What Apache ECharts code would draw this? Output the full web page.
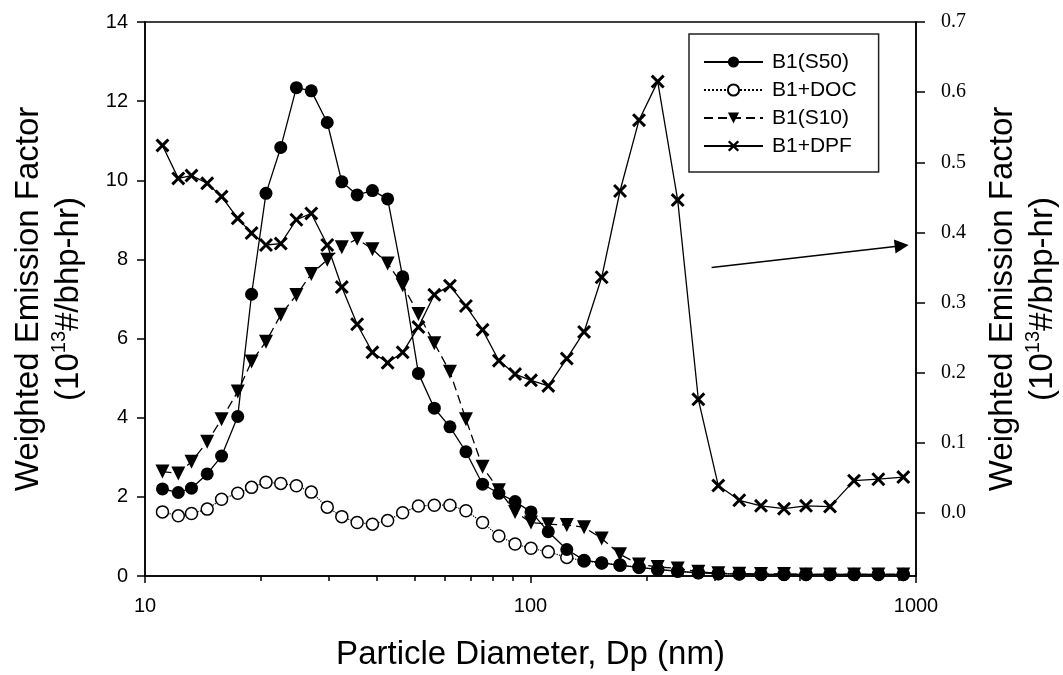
<!DOCTYPE html>
<html>
<head>
<meta charset="utf-8">
<script src="https://cdn.jsdelivr.net/npm/echarts@6/dist/echarts.min.js"></script>
<style>
  html, body { margin: 0; padding: 0; background: #fff; }
  #main { width: 1063px; height: 675px; }
</style>
</head>
<body>
<div id="main"></div>
<script>
var myChart = echarts.init(document.getElementById("main"));

// particle diameter bins (nm)
const dp = [11.1, 12.2, 13.2, 14.5, 15.8, 17.4, 18.9, 20.6, 22.5, 24.7, 27.0, 29.7, 32.4, 35.5, 38.9,
  42.6, 46.6, 51.2, 56.3, 61.8, 68.0, 75.1, 82.8, 91.2, 100.3, 111.2, 124.2, 137.7, 153.0, 170.7,
  191.2, 213.8, 240.9, 272.5, 307.0, 348.0, 396.2, 454.6, 518.4, 598.4, 690.7, 798.5, 926.8];

// left axis
const s50 = [2.20, 2.11, 2.22, 2.58, 3.03, 4.03, 7.12, 9.67, 10.83, 12.34, 12.26, 11.46, 9.96, 9.63, 9.74,
  9.53, 7.56, 5.12, 4.24, 3.77, 3.14, 2.32, 2.09, 1.88, 1.62, 1.12, 0.67, 0.40, 0.33, 0.27,
  0.22, 0.17, 0.12, 0.08, 0.06, 0.05, 0.04, 0.04, 0.04, 0.04, 0.04, 0.04, 0.04];
const doc = [1.62, 1.52, 1.58, 1.69, 1.94, 2.09, 2.24, 2.37, 2.34, 2.28, 2.12, 1.74, 1.50, 1.35, 1.31,
  1.40, 1.60, 1.77, 1.79, 1.79, 1.65, 1.35, 1.01, 0.81, 0.70, 0.61, 0.47, 0.38, 0.33, 0.28,
  0.22, 0.16, 0.12, 0.08, 0.06, 0.05, 0.04, 0.04, 0.04, 0.04, 0.04, 0.04, 0.04];
const s10 = [2.64, 2.59, 2.89, 3.39, 3.96, 4.66, 5.42, 5.92, 6.60, 7.10, 7.63, 7.99, 8.31, 8.52, 8.26,
  7.90, 7.35, 6.62, 5.88, 5.16, 3.96, 2.76, 2.17, 1.62, 1.35, 1.31, 1.29, 1.23, 0.95, 0.55,
  0.29, 0.23, 0.19, 0.11, 0.07, 0.06, 0.05, 0.05, 0.04, 0.04, 0.04, 0.04, 0.04];
// right axis
const dpf = [0.524, 0.477, 0.481, 0.470, 0.451, 0.420, 0.399, 0.382, 0.384, 0.418, 0.427, 0.382, 0.322, 0.269, 0.229,
  0.214, 0.229, 0.265, 0.311, 0.324, 0.295, 0.261, 0.217, 0.198, 0.189, 0.181, 0.220, 0.258, 0.336, 0.459,
  0.560, 0.615, 0.446, 0.162, 0.039, 0.018, 0.010, 0.006, 0.010, 0.009, 0.046, 0.048, 0.051];

const xMajor = [10, 100, 1000];
const xMinor = [20, 30, 40, 50, 60, 70, 80, 90, 200, 300, 400, 500, 600, 700, 800, 900];
const rightTicks = [0, 0.1, 0.2, 0.3, 0.4, 0.5, 0.6, 0.7];
// arrow pointing at the right axis: [dp, value] start and end
const arrowFrom = [295, 0.35];
const arrowTo = [918, 0.381];

function pairs(ys) {
  return ys.map(function (v, i) { return [dp[i], v]; });
}

const sans = "Liberation Sans";
const xShape = "path://M0,1.5L1.5,0L5,3.5L8.5,0L10,1.5L6.5,5L10,8.5L8.5,10L5,6.5L1.5,10L0,8.5L3.5,5Z";
const axisName = "Weighted Emission Factor\n(10{sup|13}#/bhp-hr)";
const nameStyle = {
  fontSize: 33, fontFamily: sans, color: "#000", lineHeight: 40,
  rich: { sup: { fontSize: 20, fontFamily: sans, color: "#000", verticalAlign: "top", lineHeight: 18 } },
};

option = {
  animation: false,
  backgroundColor: "#fff",
  grid: {
    left: 145, right: 147, top: 22, bottom: 99,
    outerBoundsMode: "none",
    show: true, borderColor: "#000", borderWidth: 1.5,
  },
  legend: {
    orient: "vertical",
    left: 689,
    top: 34,
    itemWidth: 59,
    itemHeight: 14,
    itemGap: 6,
    padding: [17, 22, 15, 14],
    borderColor: "#222",
    borderWidth: 1.5,
    textStyle: { fontSize: 21, lineHeight: 22, fontFamily: sans, color: "#000", padding: [0, 0, 0, 4] },
    data: ["B1(S50)", "B1+DOC", "B1(S10)", "B1+DPF"],
  },
  xAxis: [
    {
      type: "log",
      logBase: 10,
      min: 10,
      max: 1000,
      position: "bottom",
      name: "Particle Diameter, Dp (nm)",
      nameLocation: "middle",
      nameGap: 62,
      nameTextStyle: { fontSize: 33, fontFamily: sans, color: "#000" },
      axisLine: { onZero: false, lineStyle: { color: "#000", width: 1.5 } },
      axisTick: { show: true, length: 7, customValues: xMajor, lineStyle: { color: "#000", width: 1.5 } },
      axisLabel: {
        customValues: xMajor,
        margin: 20,
        fontSize: 20,
        fontFamily: sans,
        color: "#000",
        formatter: function (v) { return String(v); },
      },
      splitLine: { show: false },
    },
    {
      type: "log",
      logBase: 10,
      min: 10,
      max: 1000,
      position: "bottom",
      offset: 0,
      axisLine: { show: false, onZero: false },
      axisTick: { show: true, length: 5, customValues: xMinor, lineStyle: { color: "#000", width: 1.5 } },
      axisLabel: { show: false },
      splitLine: { show: false },
    },
  ],
  yAxis: [
    {
      type: "value",
      min: 0,
      max: 14,
      interval: 2,
      position: "left",
      name: axisName,
      nameLocation: "middle",
      nameRotate: 90,
      nameGap: 56,
      nameTextStyle: nameStyle,
      axisLine: { show: true, onZero: false, lineStyle: { color: "#000", width: 1.5 } },
      axisTick: { show: true, length: 8, lineStyle: { color: "#000", width: 1.5 } },
      axisLabel: { margin: 17, fontSize: 20, fontFamily: sans, color: "#000" },
      splitLine: { show: false },
    },
    {
      type: "value",
      min: -0.09,
      max: 0.7,
      position: "right",
      name: axisName,
      nameLocation: "middle",
      nameRotate: 90,
      nameGap: 67,
      nameTextStyle: nameStyle,
      axisLine: { show: true, onZero: false, lineStyle: { color: "#000", width: 1.5 } },
      axisTick: { show: true, length: 9, customValues: rightTicks, lineStyle: { color: "#000", width: 1.5 } },
      axisLabel: {
        customValues: rightTicks,
        margin: 25,
        fontSize: 20,
        fontFamily: "Liberation Serif",
        color: "#000",
        formatter: function (v) { return v.toFixed(1); },
      },
      splitLine: { show: false },
    },
  ],
  series: [
    {
      name: "B1+DOC",
      type: "line",
      yAxisIndex: 0,
      data: pairs(doc),
      symbol: "circle",
      symbolSize: 12,
      itemStyle: { color: "#fff", borderColor: "#000", borderWidth: 1.5 },
      lineStyle: { color: "#000", width: 1.2, type: "dotted" },
      z: 2,
    },
    {
      name: "B1+DPF",
      type: "line",
      yAxisIndex: 1,
      data: pairs(dpf),
      symbol: xShape,
      symbolSize: 14,
      itemStyle: { color: "#000" },
      lineStyle: { color: "#000", width: 1.3 },
      z: 3,
      markLine: {
        silent: true,
        symbol: ["none", "triangle"],
        symbolSize: 14,
        label: { show: false },
        lineStyle: { color: "#000", width: 1.6, type: "solid" },
        data: [[{ coord: arrowFrom }, { coord: arrowTo }]],
      },
    },
    {
      name: "B1(S10)",
      type: "line",
      yAxisIndex: 0,
      data: pairs(s10),
      symbol: "triangle",
      symbolRotate: 180,
      symbolSize: 14,
      itemStyle: { color: "#000" },
      lineStyle: { color: "#000", width: 1.3, type: [9, 5] },
      z: 4,
    },
    {
      name: "B1(S50)",
      type: "line",
      yAxisIndex: 0,
      data: pairs(s50),
      symbol: "circle",
      symbolSize: 13,
      itemStyle: { color: "#000" },
      lineStyle: { color: "#000", width: 1.3 },
      z: 5,
    },
  ],
};
myChart.setOption(option);
</script>
</body>
</html>
